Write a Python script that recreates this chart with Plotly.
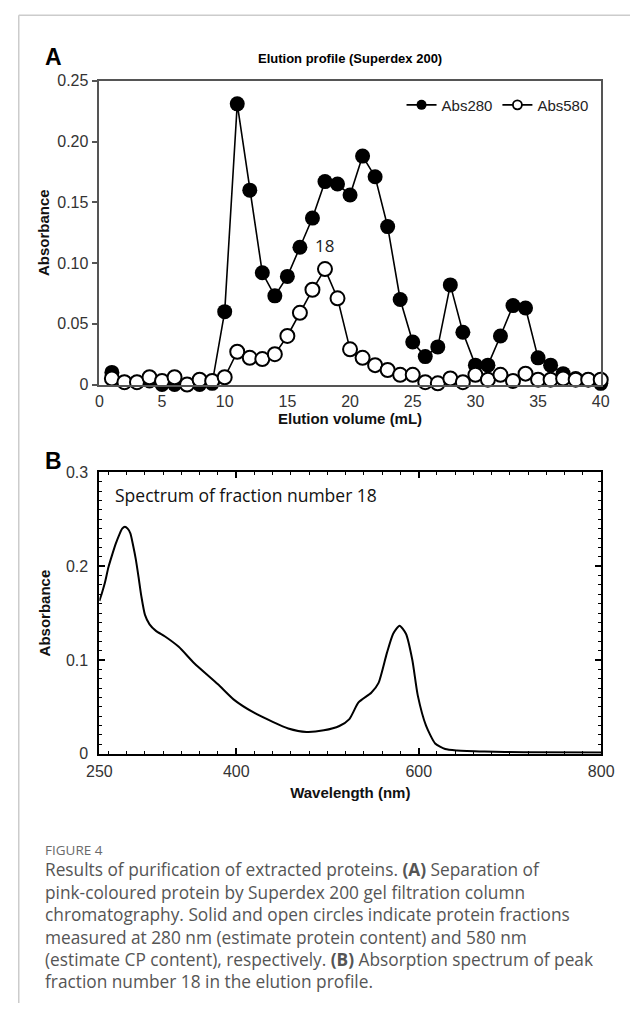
import plotly.graph_objects as go

# ---------------- Data ----------------
fractions = list(range(1, 41))
abs280 = [0.010, 0.002, 0.002, 0.003, 0.000, 0.000, 0.000, 0.000, 0.001, 0.060,
          0.231, 0.160, 0.092, 0.073, 0.089, 0.113, 0.137, 0.167, 0.165, 0.156,
          0.188, 0.171, 0.130, 0.070, 0.035, 0.023, 0.031, 0.082, 0.043, 0.016,
          0.016, 0.040, 0.065, 0.063, 0.022, 0.016, 0.009, 0.005, 0.004, 0.001]
abs580 = [0.005, 0.002, 0.002, 0.006, 0.003, 0.006, 0.000, 0.004, 0.003, 0.006,
          0.027, 0.022, 0.021, 0.025, 0.040, 0.059, 0.078, 0.095, 0.071, 0.029,
          0.022, 0.016, 0.012, 0.008, 0.008, 0.002, 0.001, 0.005, 0.002, 0.008,
          0.004, 0.008, 0.003, 0.009, 0.004, 0.004, 0.005, 0.004, 0.004, 0.004]

wavelength = [250, 253, 256, 260, 264, 268, 272, 275, 278, 281, 284, 287, 290, 293, 296,
              300, 305, 312, 322, 337, 354, 380, 397, 419, 440, 457, 477, 496, 513, 524,
              534, 548, 556, 565, 572, 579, 586, 593, 599, 608, 618, 629, 642, 672, 715, 800]
spectrum = [0.163, 0.172, 0.182, 0.199, 0.212, 0.224, 0.234, 0.240, 0.242, 0.240, 0.235,
            0.222, 0.207, 0.188, 0.168, 0.148, 0.138, 0.131, 0.125, 0.114, 0.0965, 0.074,
            0.058, 0.044, 0.034, 0.027, 0.0233, 0.025, 0.0296, 0.037, 0.0547, 0.065, 0.0756,
            0.107, 0.128, 0.1366, 0.128, 0.100, 0.062, 0.030, 0.011, 0.005, 0.0035, 0.0024,
            0.0017, 0.0014]

a_yticks = [0, 0.05, 0.10, 0.15, 0.20, 0.25]
a_yticktext = ["0", "0.05", "0.10", "0.15", "0.20", "0.25"]
a_xticks = [0, 5, 10, 15, 20, 25, 30, 35, 40]
b_xticks = [250, 400, 600, 800]
b_yticks = [0, 0.1, 0.2, 0.3]
b_yticktext = ["0", "0.1", "0.2", "0.3"]

caption_lines = [
    "Results of purification of extracted proteins. <b>(A)</b> Separation of",
    "pink-coloured protein by Superdex 200 gel filtration column",
    "chromatography. Solid and open circles indicate protein fractions",
    "measured at 280 nm (estimate protein content) and 580 nm",
    "(estimate CP content), respectively. <b>(B)</b> Absorption spectrum of peak",
    "fraction number 18 in the elution profile.",
]

W, H = 643, 1012
ARIAL = "Liberation Sans, Arial, sans-serif"
SANS = "Open Sans, Noto Sans, sans-serif"


def px(x):
    return x / W


def py(y):
    return 1 - y / H


fig = go.Figure()

# Panel A
fig.add_trace(go.Scatter(x=fractions, y=abs280, mode="lines+markers", name="Abs280",
                         line=dict(color="black", width=1.6),
                         marker=dict(size=15, color="black"),
                         cliponaxis=False, showlegend=False, xaxis="x", yaxis="y"))
fig.add_trace(go.Scatter(x=fractions, y=abs580, mode="lines+markers", name="Abs580",
                         line=dict(color="black", width=1.6),
                         marker=dict(size=14, color="white", line=dict(color="black", width=2)),
                         cliponaxis=False, showlegend=False, xaxis="x", yaxis="y"))
# legend entries
fig.add_trace(go.Scatter(x=[None], y=[None], mode="lines+markers", name="Abs280",
                         line=dict(color="black", width=1.6),
                         marker=dict(size=10, color="black"), xaxis="x", yaxis="y"))
fig.add_trace(go.Scatter(x=[None], y=[None], mode="lines+markers", name="Abs580",
                         line=dict(color="black", width=1.6),
                         marker=dict(size=9, color="white", line=dict(color="black", width=1.8)),
                         xaxis="x", yaxis="y"))

# Panel B
fig.add_trace(go.Scatter(x=wavelength, y=spectrum, mode="lines",
                         line=dict(color="black", width=2, shape="spline", smoothing=0.6),
                         showlegend=False, xaxis="x2", yaxis="y2"))

axis_font = dict(family=ARIAL, size=16, color="#333333")
title_font = dict(family=ARIAL, size=15, color="#111111")

fig.update_layout(
    width=W, height=H,
    margin=dict(l=0, r=0, t=0, b=0),
    paper_bgcolor="white", plot_bgcolor="white",
    showlegend=True,
    legend=dict(orientation="h", x=px(605), xanchor="right", y=py(82), yanchor="top",
                font=dict(family=ARIAL, size=15, color="#222222"),
                bgcolor="rgba(0,0,0,0)", itemwidth=30, tracegroupgap=0),
    xaxis=dict(domain=[px(90), px(612.5)], range=[0, 40], tickvals=a_xticks,
               showline=True, linecolor="#555555", linewidth=1.5, mirror=True,
               ticks="", showgrid=False, zeroline=False, tickfont=axis_font,
               ticklabelstandoff=1,
               title=dict(text="<b>Elution volume (mL)</b>", font=title_font, standoff=2),
               anchor="y"),
    yaxis=dict(domain=[py(383), py(74)], range=[0, 0.25], tickvals=a_yticks,
               ticktext=a_yticktext,
               showline=True, linecolor="#555555", linewidth=1.5, mirror=True,
               ticks="outside", ticklen=6, tickcolor="#555555", tickwidth=1.5,
               showgrid=False, zeroline=False, tickfont=axis_font,
               title=dict(text="<b>Absorbance</b>", font=title_font, standoff=4),
               anchor="x"),
    xaxis2=dict(domain=[px(90), px(613)], range=[250, 800], tickvals=b_xticks,
                showline=True, linecolor="black", linewidth=2, mirror="allticks",
                ticks="inside", ticklen=6, tickcolor="black", tickwidth=1.5,
                minor=dict(tickvals=list(range(260, 800, 20)), ticks="inside", ticklen=3,
                           tickcolor="black", tickwidth=1.2),
                showgrid=False, zeroline=False, tickfont=axis_font,
                ticklabelstandoff=2,
                title=dict(text="<b>Wavelength (nm)</b>", font=title_font, standoff=9),
                anchor="y2"),
    yaxis2=dict(domain=[py(758.5), py(472.3)], range=[0, 0.3], tickvals=b_yticks,
                ticktext=b_yticktext,
                showline=True, linecolor="black", linewidth=2, mirror="allticks",
                ticks="inside", ticklen=6, tickcolor="black", tickwidth=1.5,
                minor=dict(dtick=0.01, tick0=0, ticks="inside", ticklen=3,
                           tickcolor="black", tickwidth=1.2),
                showgrid=False, zeroline=False, tickfont=axis_font,
                ticklabelstandoff=6,
                title=dict(text="<b>Absorbance</b>", font=title_font, standoff=12),
                anchor="x2"),
)

annotations = [
    dict(text="<b>A</b>", x=px(31), y=py(50), xref="paper", yref="paper",
         xanchor="left", yanchor="middle", showarrow=False,
         font=dict(family=ARIAL, size=23, color="black")),
    dict(text="<b>Elution profile (Superdex 200)</b>", x=px(351), y=py(51),
         xref="paper", yref="paper", xanchor="center", yanchor="middle", showarrow=False,
         font=dict(family=ARIAL, size=13, color="black")),
    dict(text="18", x=18, y=0.1145, xref="x", yref="y", xanchor="center",
         yanchor="middle", showarrow=False,
         font=dict(family=SANS, size=17, color="#222222")),
    dict(text="<b>B</b>", x=px(31), y=py(461), xref="paper", yref="paper",
         xanchor="left", yanchor="middle", showarrow=False,
         font=dict(family=ARIAL, size=23, color="black")),
    dict(text="Spectrum of fraction number 18", x=px(104), y=py(495), xref="paper",
         yref="paper", xanchor="left", yanchor="middle", showarrow=False,
         font=dict(family=SANS, size=17.5, color="#111111")),
    dict(text="FIGURE 4", x=px(31), y=py(856), xref="paper", yref="paper",
         xanchor="left", yanchor="middle", showarrow=False,
         font=dict(family=SANS, size=13.5, color="#6a6a6a")),
]
for i, line in enumerate(caption_lines):
    annotations.append(dict(text=line, x=px(31), y=py(876.5 + 22.8 * i), xref="paper",
                            yref="paper", xanchor="left", yanchor="middle",
                            showarrow=False,
                            font=dict(family=SANS, size=17.3, color="#555555")))
fig.update_layout(annotations=annotations)

# card border (top and left)
fig.update_layout(shapes=[
    dict(type="line", xref="paper", yref="paper", x0=px(6), x1=1, y0=py(7.5), y1=py(7.5),
         line=dict(color="#cccccc", width=1.5)),
    dict(type="line", xref="paper", yref="paper", x0=px(6), x1=px(6), y0=py(7.5), y1=0,
         line=dict(color="#cccccc", width=1.5)),
])

fig.write_html("out.html", config={"displayModeBar": False},
               post_script="document.body.style.margin='0';document.body.style.overflow='hidden';")
